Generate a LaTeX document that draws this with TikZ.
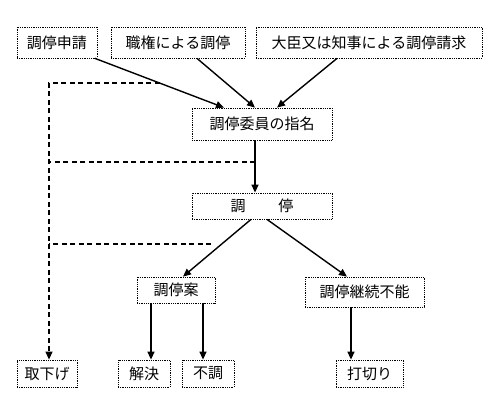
\documentclass[tikz,border=0pt]{standalone}
\usepackage{fontspec}
\setmainfont{Noto Sans CJK JP}
\usetikzlibrary{arrows.meta,calc}
\begin{document}
\begin{tikzpicture}[x=1pt,y=-1pt,
  box/.style={draw,densely dotted,line width=0.8pt,inner sep=0pt,font=\fontsize{15}{17}\selectfont},
  arr/.style={line width=1.4pt,-{Triangle[length=8pt,width=7pt]}},
  dsh/.style={line width=1.2pt,dash pattern=on 5pt off 3.5pt}]
\useasboundingbox (0,0) rectangle (498,419);
\node[box,minimum width=80pt,minimum height=31pt] (a) at (57,42.5) {調停申請};
\node[box,minimum width=134pt,minimum height=31pt] (b) at (178,42.5) {職権による調停};
\node[box,minimum width=226pt,minimum height=31pt] (c) at (369,42.5) {大臣又は知事による調停請求};
\node[box,minimum width=140pt,minimum height=32pt] (d) at (262,124) {調停委員の指名};
\node[box,minimum width=140pt,minimum height=26pt] (e) at (262,206) {調\hspace{2.2em}停};
\node[box,minimum width=78pt,minimum height=26pt] (f) at (176,290) {調停案};
\node[box,minimum width=119pt,minimum height=30pt] (g) at (364.5,292) {調停継続不能};
\node[box,minimum width=60pt,minimum height=27pt] (h) at (47,373.5) {取下げ};
\node[box,minimum width=52pt,minimum height=27pt] (i) at (144,373.5) {解決};
\node[box,minimum width=52pt,minimum height=27pt] (j) at (208,373.5) {不調};
\node[box,minimum width=67pt,minimum height=27pt] (k) at (369.5,373.5) {打切り};
% solid arrows
\coordinate (a1) at ([xshift=38pt]a.south);
\coordinate (d1) at ([xshift=-38pt]d.north);
\draw[arr] (a1) -- (d1);
\draw[arr] ([xshift=19pt]b.south) -- ([xshift=-7pt]d.north);
\draw[arr] ([xshift=-32pt]c.south) -- ([xshift=15pt]d.north);
\coordinate (d2) at ([xshift=-7pt]d.south);
\coordinate (e1) at ([xshift=-7pt]e.north);
\draw[arr] (d2) -- (e1);
\coordinate (e2) at ([xshift=-11pt]e.south);
\coordinate (f1) at ([xshift=7pt]f.north);
\draw[arr] (e2) -- (f1);
\draw[arr] ([xshift=5pt]e.south) -- ([xshift=-17.5pt]g.north);
\draw[arr] ([xshift=-25pt]f.south) -- ([xshift=-25pt]f.south |- i.north);
\draw[arr] ([xshift=27pt]f.south) -- ([xshift=27pt]f.south |- j.north);
\draw[arr] ([xshift=-13.5pt]g.south) -- ([xshift=-13.5pt]g.south |- k.north);
% dashed lines
\coordinate (hv) at ([xshift=2pt]h.north);
\coordinate (p1) at ($(a1)!0.5!(d1)$);
\coordinate (p2) at ($(d2)!0.415!(e1)$);
\coordinate (p3) at (211,244);
\draw[dsh,-{Triangle[length=8pt,width=7pt]}] (p1) -| (hv);
\draw[dsh] (p2) -- (p2 -| hv);
\draw[dsh] (p3) -- (p3 -| hv);
\end{tikzpicture}
\end{document}
